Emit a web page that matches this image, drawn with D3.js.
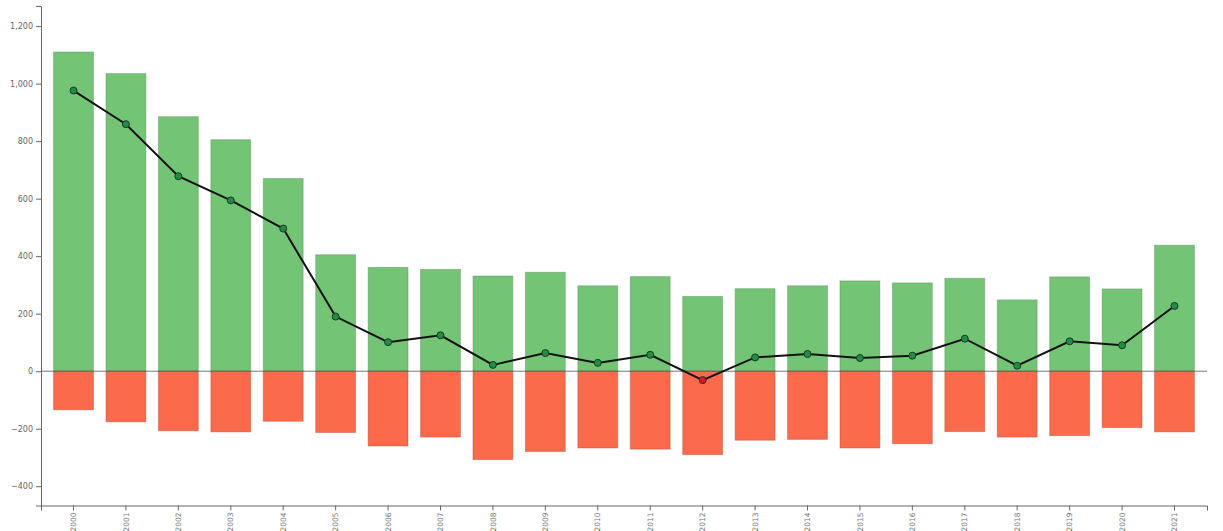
<!DOCTYPE html>
<html>
<head>
<meta charset="utf-8">
<script src="https://d3js.org/d3.v7.min.js"></script>
<style>
    body { margin: 0; background: #fff; }
    svg text { font-family: Verdana, "DejaVu Sans", sans-serif; }
</style>
</head>
<body>
<svg id="chart"></svg>
<script>
// years on the x axis
const YEARS = ["2000","2001","2002","2003","2004","2005","2006","2007","2008","2009","2010",
               "2011","2012","2013","2014","2015","2016","2017","2018","2019","2020","2021"];

// green bars (positive)
const POS = [1110, 1035, 885, 805, 670, 405, 361, 354, 331, 344, 297,
             329, 260, 287, 297, 314, 307, 323, 248, 328, 286, 438];

// red bars (negative)
const NEG = [-134, -176, -207, -211, -174, -213, -260, -229, -307, -279, -267,
             -271, -290, -240, -237, -267, -252, -210, -229, -224, -196, -211];

// net line
const NET = [976, 859, 678, 594, 496, 190, 101, 125, 22, 63, 29,
             57, -31, 48, 60, 46, 54, 113, 19, 104, 90, 227];

const Y_TICKS = [-400, -200, 0, 200, 400, 600, 800, 1000, 1200];

const WIDTH = 1223;
const HEIGHT = 531;
const LEFT = 41;
const RIGHT = 1207;
const TOP = 6;
const BOTTOM = 505.5;

window.onload = function(){
    drawChart();
};

function drawChart(){
    let data = YEARS.map(function(y, i){
        return { year: y, pos: POS[i], neg: NEG[i], net: NET[i] };
    });

    let svg = d3.select("#chart")
        .attr("width", WIDTH)
        .attr("height", HEIGHT);

    let xScale = d3.scaleBand()
        .domain(YEARS)
        .range([LEFT, RIGHT])
        .padding(0.24);

    let yScale = d3.scaleLinear()
        .domain([-467, 1270])
        .range([BOTTOM, TOP]);

    // green bars
    svg.selectAll("rect.pos")
        .data(data)
        .enter()
        .append("rect")
        .attr("class", "pos")
        .attr("x", function(d){ return xScale(d.year); })
        .attr("y", function(d){ return yScale(d.pos); })
        .attr("width", xScale.bandwidth())
        .attr("height", function(d){ return yScale(0) - yScale(d.pos); })
        .style("fill", "#74c476")
        .style("stroke", "#5a8f5c")
        .style("stroke-opacity", 0.45)
        .style("stroke-width", 1);

    // red bars
    svg.selectAll("rect.neg")
        .data(data)
        .enter()
        .append("rect")
        .attr("class", "neg")
        .attr("x", function(d){ return xScale(d.year); })
        .attr("y", yScale(0))
        .attr("width", xScale.bandwidth())
        .attr("height", function(d){ return yScale(d.neg) - yScale(0); })
        .style("fill", "#fb6a4a")
        .style("stroke", "#a8503c")
        .style("stroke-opacity", 0.45)
        .style("stroke-width", 1);

    // zero line
    svg.append("line")
        .attr("x1", LEFT)
        .attr("x2", RIGHT)
        .attr("y1", yScale(0))
        .attr("y2", yScale(0))
        .style("stroke", "#555")
        .style("stroke-width", 0.8);

    // y axis
    let yAxis = svg.append("g")
        .attr("transform", "translate(" + LEFT + ",0)")
        .call(d3.axisLeft(yScale).tickValues(Y_TICKS).tickSize(5).tickFormat(d3.format(",")));
    yAxis.selectAll("text")
        .attr("font-size", "8px")
        .attr("fill", "#666");
    yAxis.selectAll("line, path").attr("stroke", "#666");

    // x axis
    let xAxis = svg.append("g")
        .attr("transform", "translate(0," + BOTTOM + ")")
        .call(d3.axisBottom(xScale).tickSize(5).tickSizeOuter(5));
    xAxis.selectAll("text")
        .attr("font-size", "7.5px")
        .attr("fill", "#777")
        .attr("transform", "rotate(-90)")
        .attr("x", -7)
        .attr("y", 0)
        .attr("dy", "0.35em")
        .style("text-anchor", "end");
    xAxis.selectAll("line, path").attr("stroke", "#666");

    // net line
    let line = d3.line()
        .x(function(d){ return xScale(d.year) + xScale.bandwidth() / 2; })
        .y(function(d){ return yScale(d.net); });

    svg.append("path")
        .datum(data)
        .attr("d", line)
        .style("fill", "none")
        .style("stroke", "#111")
        .style("stroke-width", 2);

    svg.selectAll("circle")
        .data(data)
        .enter()
        .append("circle")
        .attr("cx", function(d){ return xScale(d.year) + xScale.bandwidth() / 2; })
        .attr("cy", function(d){ return yScale(d.net); })
        .attr("r", 3.5)
        .style("fill", function(d){ return d.net < 0 ? "#d7191c" : "#238b45"; })
        .style("stroke", "#1a3a22")
        .style("stroke-width", 1);
}
</script>
</body>
</html>
